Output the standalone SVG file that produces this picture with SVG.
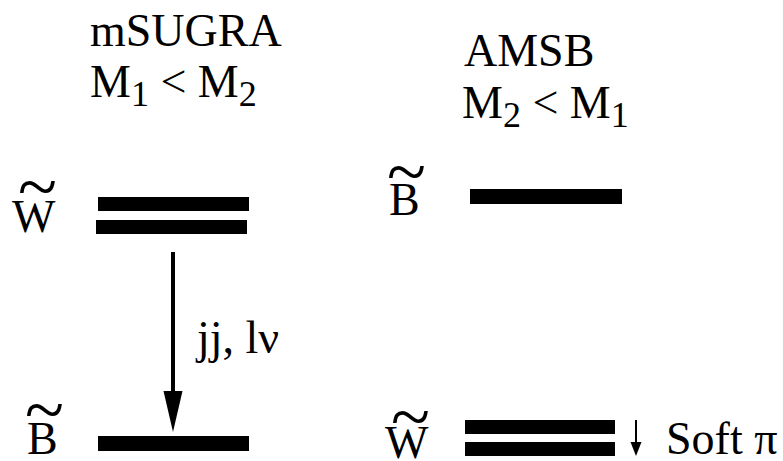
<svg xmlns="http://www.w3.org/2000/svg" width="783" height="461" viewBox="0 0 783 461">
<style>
text{font-family:'Liberation Serif','DejaVu Serif',serif;fill:#000;font-size:46px}
.sub{font-size:36px}
.tl{font-size:72px}
.bar{fill:#000}
.conn{stroke:#000;fill:none}
</style>
<defs>
<marker id="big" markerUnits="userSpaceOnUse" markerWidth="42" markerHeight="20" refX="4" refY="0" viewBox="0 -10 42 20" orient="auto" overflow="visible">
<path d="M0,-9.5 L41,0 L0,9.5 z" fill="#000"/>
</marker>
<marker id="small" markerUnits="userSpaceOnUse" markerWidth="15" markerHeight="12" refX="2" refY="0" viewBox="0 -6 15 12" orient="auto" overflow="visible">
<path d="M0,-5.5 L14,0 L0,5.5 z" fill="#000"/>
</marker>
</defs>
<rect width="783" height="461" fill="#fff"/>
<g id="header-msugra">
<text x="90" y="46">mSUGRA</text>
<text x="90" y="97">M<tspan class="sub" dy="9">1</tspan><tspan dy="-9"> &lt; M</tspan><tspan class="sub" dy="9">2</tspan></text>
</g>
<g id="header-amsb">
<text x="464" y="66">AMSB</text>
<text x="462" y="118">M<tspan class="sub" dy="9">2</tspan><tspan dy="-9"> &lt; M</tspan><tspan class="sub" dy="9">1</tspan></text>
</g>
<g id="wino-msugra">
<text x="12" y="232"><tspan class="tl" x="18" y="211">~</tspan><tspan x="12" y="232">W</tspan></text>
<rect class="bar" x="98" y="197" width="151" height="14"/>
<rect class="bar" x="96" y="220" width="151" height="14"/>
</g>
<g id="bino-msugra">
<text x="27" y="454"><tspan class="tl" x="25" y="434">~</tspan><tspan x="27" y="454">B</tspan></text>
<rect class="bar" x="98" y="436" width="151" height="15"/>
</g>
<g id="bino-amsb">
<text x="389" y="215"><tspan class="tl" x="387" y="196">~</tspan><tspan x="389" y="215">B</tspan></text>
<rect class="bar" x="470" y="189" width="152" height="15"/>
</g>
<g id="wino-amsb">
<text x="385" y="458"><tspan class="tl" x="391" y="441">~</tspan><tspan x="385" y="458">W</tspan></text>
<rect class="bar" x="465" y="420" width="150" height="14"/>
<rect class="bar" x="465" y="442" width="150" height="14"/>
</g>
<g id="connectors">
<line class="conn" x1="173" y1="252" x2="173" y2="395" stroke-width="4" marker-end="url(#big)"/>
<text x="197" y="353">jj, lν</text>
<line class="conn" x1="636" y1="420" x2="636" y2="444" stroke-width="2" marker-end="url(#small)"/>
<text x="666" y="454">Soft π</text>
</g>
</svg>
